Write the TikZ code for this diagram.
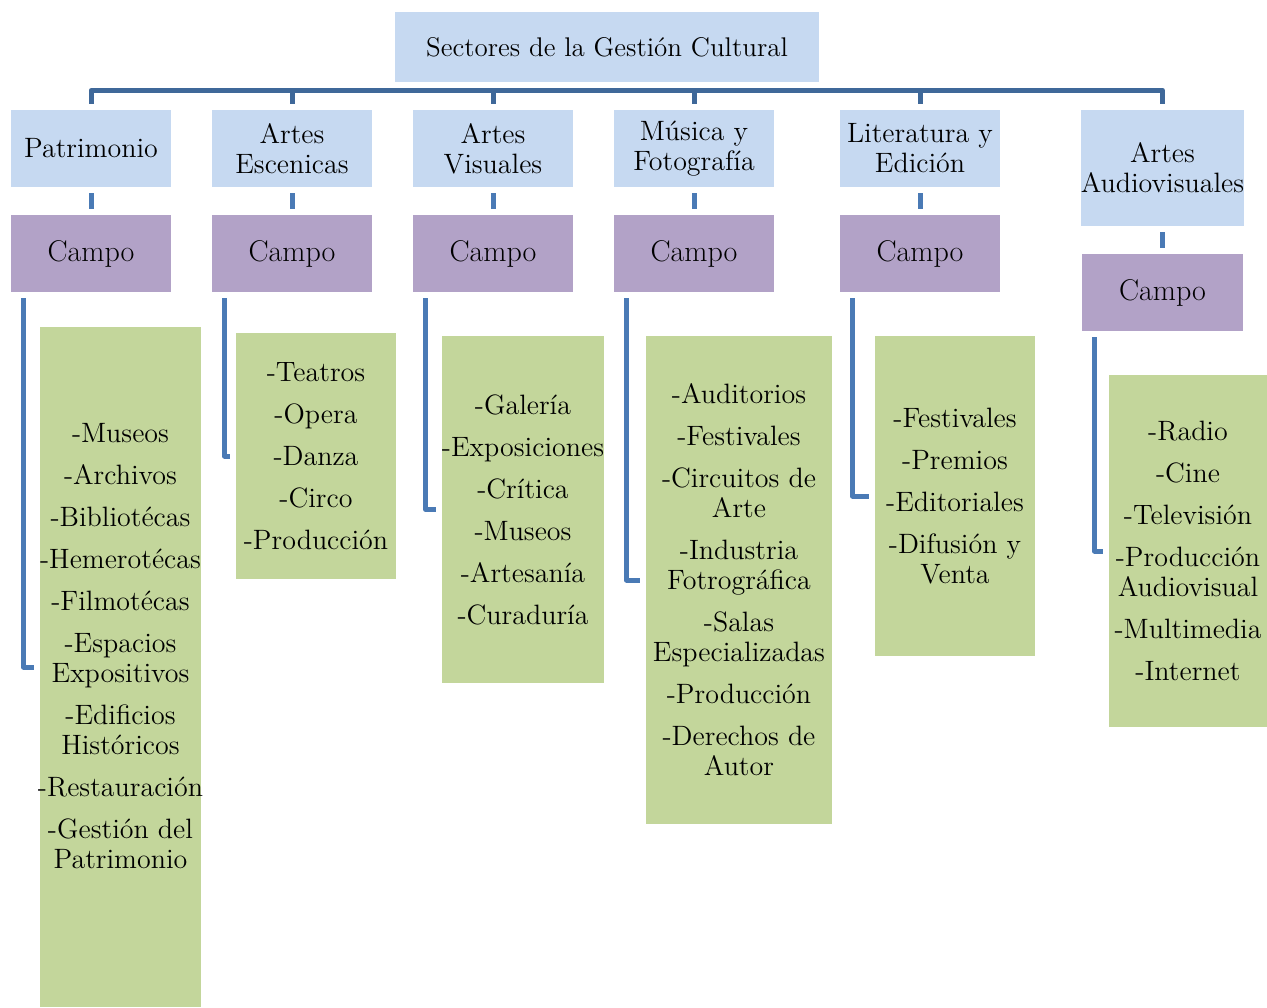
\documentclass[tikz,border=0pt]{standalone}
\usetikzlibrary{calc}
\definecolor{hdr}{HTML}{C6D9F1}
\definecolor{cmp}{HTML}{B2A2C7}
\definecolor{lst}{HTML}{C3D69B}
\definecolor{bardark}{HTML}{3F6899}
\definecolor{barmid}{HTML}{4A7AB5}
\begin{document}
\begin{tikzpicture}[x=0.5pt,y=-0.5pt,
  box/.style={inner sep=0pt, align=center, text=black},
  rootbox/.style={box, fill=hdr, minimum width=212pt, minimum height=35pt, font=\fontsize{13.5}{15}\selectfont},
  sector/.style={box, fill=hdr, minimum width=80pt, minimum height=38.5pt, font=\fontsize{14}{15}\selectfont},
  campo/.style={box, fill=cmp, minimum width=80pt, minimum height=38.5pt, font=\fontsize{15}{16}\selectfont},
  listbox/.style={box, fill=lst, minimum width=80pt, font=\fontsize{14}{15}\selectfont},
  listtext/.style={box, font=\fontsize{14}{15}\selectfont},
  barline/.style={draw=bardark, line width=2.5pt, line join=round},
  tickline/.style={draw=barmid, line width=2.5pt},
  conn/.style={draw=barmid, line width=2.5pt, line join=round}]
\useasboundingbox (0,0) rectangle (1267,1007);

% root
\node[rootbox] (root) at (607,47) {Sectores de la Gestión Cultural};

% sectors
\node[sector] (s1) at (91,148.5) {Patrimonio};
\node[sector] (s2) at (292,148.5) {Artes\\Escenicas};
\node[sector] (s3) at (493,148.5) {Artes\\Visuales};
\node[sector] (s4) at (694,148.5) {Música y\\Fotografía};
\node[sector] (s5) at (920,148.5) {Literatura y\\Edición};
\node[sector, minimum width=80.5pt, minimum height=58pt] (s6) at (1162.5,168) {Artes\\Audiovisuales};

% campo
\node[campo] (c1) at (91,253.5) {Campo};
\node[campo] (c2) at (292,253.5) {Campo};
\node[campo] (c3) at (493,253.5) {Campo};
\node[campo] (c4) at (694,253.5) {Campo};
\node[campo] (c5) at (920,253.5) {Campo};
\node[campo, minimum width=80.5pt] (c6) at (1162.5,292.5) {Campo};

% lists
\node[listbox, minimum width=80.5pt, minimum height=340pt] (g1) at (120.5,667) {};
\node[listtext] (t1) at (120.5,646) {-Museos\\[6pt]-Archivos\\[6pt]-Bibliotécas\\[6pt]-Hemerotécas\\[6pt]-Filmotécas\\[6pt]-Espacios\\Expositivos\\[6pt]-Edificios\\Históricos\\[6pt]-Restauración\\[6pt]-Gestión del\\Patrimonio};
\node[listbox, minimum height=123pt] (g2) at (316,456) {-Teatros\\[6pt]-Opera\\[6pt]-Danza\\[6pt]-Circo\\[6pt]-Producción};
\node[listbox, minimum height=173.5pt] (g3) at (523,509.5) {-Galería\\[6pt]-Exposiciones\\[6pt]-Crítica\\[6pt]-Museos\\[6pt]-Artesanía\\[6pt]-Curaduría};
\node[listbox, minimum width=93pt, minimum height=244pt] (g4) at (739,580) {-Auditorios\\[6pt]-Festivales\\[6pt]-Circuitos de\\Arte\\[6pt]-Industria\\Fotrográfica\\[6pt]-Salas\\Especializadas\\[6pt]-Producción\\[6pt]-Derechos de\\Autor};
\node[listbox, minimum height=160pt] (g5) at (955,496) {-Festivales\\[6pt]-Premios\\[6pt]-Editoriales\\[6pt]-Difusión y\\Venta};
\node[listbox, minimum width=79pt, minimum height=176pt] (g6) at (1188,551) {-Radio\\[6pt]-Cine\\[6pt]-Televisión\\[6pt]-Producción\\Audiovisual\\[6pt]-Multimedia\\[6pt]-Internet};

% connectors
\foreach \i in {1,...,6}{
  \draw[barline] (root.south) ++(0,8) -| ($(s\i.north)+(0,-6)$);
  \draw[tickline] ($(s\i.south)+(0,6)$) -- ($(c\i.north)+(0,-6)$);
  \draw[conn] ($(c\i.south west)+(13,6)$) |- ($(g\i.west)+(-6,0)$);
}
\end{tikzpicture}
\end{document}
